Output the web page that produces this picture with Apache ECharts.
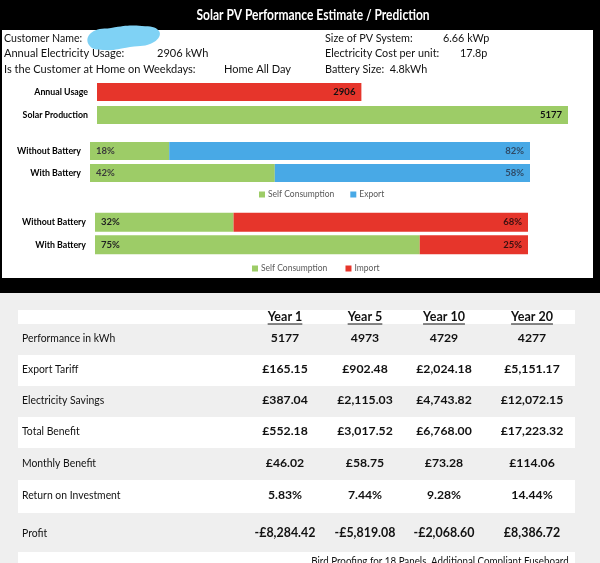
<!DOCTYPE html>
<html><head><meta charset="utf-8">
<script src="https://cdn.jsdelivr.net/npm/echarts@6/dist/echarts.min.js"></script>
<style>html,body{margin:0;padding:0;background:#000;}#c{width:600px;height:563px;}</style>
</head><body><div id="c"></div>
<script>
// ---- data ----
const titleText = 'Solar PV Performance Estimate / Prediction';
const infoLeft = [['Customer Name:', ''], ['Annual Electricity Usage:', '2906 kWh'], ['Is the Customer at Home on Weekdays:', 'Home All Day']];
const infoRight = [['Size of PV System:', '6.66 kWp'], ['Electricity Cost per unit:', '17.8p'], ['Battery Size:  4.8kWh', '']];
const usageCats = ['Annual Usage', 'Solar Production'];
const usageVals = [2906, 5177];
const batteryCats = ['Without Battery', 'With Battery'];
const exportSelf = [18, 42];
const exportShare = [82, 58];
const importSelf = [32, 75];
const importShare = [68, 25];
const tableYears = ['Year 1', 'Year 5', 'Year 10', 'Year 20'];
const tableLabels = ['Performance in kWh', 'Export Tariff', 'Electricity Savings', 'Total Benefit', 'Monthly Benefit', 'Return on Investment', 'Profit'];
const tableValues = [
  ['5177', '4973', '4729', '4277'],
  ['£165.15', '£902.48', '£2,024.18', '£5,151.17'],
  ['£387.04', '£2,115.03', '£4,743.82', '£12,072.15'],
  ['£552.18', '£3,017.52', '£6,768.00', '£17,223.32'],
  ['£46.02', '£58.75', '£73.28', '£114.06'],
  ['5.83%', '7.44%', '9.28%', '14.44%'],
  ['-£8,284.42', '-£5,819.08', '-£2,068.60', '£8,386.72']
];
const footNote = 'Bird Proofing for 18 Panels, Additional Compliant Fuseboard';

// ---- styles ----
const FONT = 'Lato, "Open Sans", sans-serif';
const GREEN = '#9dcc67', RED = '#e6352b', BLUE = '#48a9e6';
const chart = echarts.init(document.getElementById('c'));
const mctx = document.createElement('canvas').getContext('2d');
function tw(font, t){ mctx.font = font; return mctx.measureText(t).width; }
function txt(t, x, y, font, opts){
  opts = opts || {};
  return {type:'text', x:x, y:y, scaleX:opts.sx||1, z:opts.z||10,
    style:{text:t, x:0, y:0, fill:opts.fill||'#111', font:font, textAlign:opts.align||'left', textVerticalAlign:opts.va||'middle'}};
}

const g = [];
// backgrounds
g.push({type:'rect', shape:{x:0,y:0,width:600,height:563}, style:{fill:'#000'}, z:-10});
g.push({type:'rect', shape:{x:2,y:30,width:591,height:248}, style:{fill:'#fff'}, z:-9});
g.push({type:'rect', shape:{x:0,y:293,width:600,height:270}, style:{fill:'#efefef'}, z:-9});
// title
g.push(txt(titleText, 313, 15, 'bold 15px '+FONT, {fill:'#fff', align:'center', sx:0.8}));
// blue blob
g.push({type:'polygon', shape:{points:[[91,33],[111,28],[142,26],[159,31],[154,42],[130,47],[103,50],[89,45]], smooth:0.5}, style:{fill:'#7fd2f5'}, z:20});
// info
const infoY = [38, 53, 69];
const infoLeftValX = [null, 157, 224];
const infoFont = '11.5px '+FONT;
infoLeft.forEach((r,i)=>{
  g.push(txt(r[0], 4, infoY[i], infoFont, {sx:(i===0?0.92:0.96)}));
  if (r[1]) g.push(txt(r[1], infoLeftValX[i], infoY[i], infoFont, {sx:0.96}));
});
const infoRightValX = [443, 460, null];
infoRight.forEach((r,i)=>{
  g.push(txt(r[0], 325, infoY[i], infoFont, {sx:0.94}));
  if (r[1]) g.push(txt(r[1], infoRightValX[i], infoY[i], infoFont, {sx:0.94}));
});
// table rows
const colX = [285, 365, 444, 532];
const rowBands = [[324,355],[355,386],[386,417],[417,448],[448,480],[480,513],[513,552]];
g.push({type:'rect', shape:{x:18,y:310,width:557,height:14}, style:{fill:'#fff'}, z:-8});
rowBands.forEach((b,i)=>{ if (i%2===1) g.push({type:'rect', shape:{x:18,y:b[0],width:557,height:b[1]-b[0]}, style:{fill:'#fff'}, z:-8}); });
g.push({type:'rect', shape:{x:18,y:552,width:557,height:20}, style:{fill:'#fff'}, z:-8});
const hFont = 'bold 12.5px '+FONT;
tableYears.forEach((t,j)=>{
  g.push(txt(t, colX[j], 317, hFont, {align:'center'}));
  const w = tw(hFont, t);
  g.push({type:'line', shape:{x1:colX[j]-w/2, y1:324, x2:colX[j]+w/2, y2:324}, style:{stroke:'#111', lineWidth:1}});
});
tableLabels.forEach((l,i)=>{
  const yc = i===6 ? 533 : (rowBands[i][0]+rowBands[i][1])/2 - 1;
  g.push(txt(l, 22, yc, '12px '+FONT, {sx:0.865}));
  tableValues[i].forEach((v,j)=>{
    g.push(txt(v, colX[j], yc, (i===6?'bold 13.5px ':'bold 12px ')+FONT, {align:'center', sx:(i===6?0.92:1.02)}));
  });
});
g.push(txt(footNote, 440, 555, '11.5px '+FONT, {align:'center', va:'top', sx:0.85}));

const lbl = (pos, color) => ({show:true, position:pos, fontFamily:FONT, fontWeight:'bold', fontSize:9.5, color:color||'#333', distance:6});
const yAx = (gi, cats, margin) => ({gridIndex:gi, type:'category', data:cats, inverse:true, axisLine:{show:false}, axisTick:{show:false},
  axisLabel:{fontFamily:FONT, fontWeight:'bold', fontSize:8.8, color:'#000', margin:margin}});
const xAx = (gi, max) => ({gridIndex:gi, type:'value', min:0, max:max, show:false});

chart.setOption({
  backgroundColor:'#000',
  animation:false,
  textStyle:{fontFamily:FONT},
  graphic:g,
  grid:[
    {left:97, width:471, top:80.5, height:46},
    {left:90, width:440, top:140, height:44},
    {left:95, width:433, top:211, height:45}
  ],
  xAxis:[xAx(0,5177), xAx(1,100), xAx(2,100)],
  yAxis:[yAx(0,usageCats,9), yAx(1,batteryCats,9), yAx(2,batteryCats,9)],
  legend:[
    {data:['Self Consumption','Export'], left:254, top:185, itemWidth:6, itemHeight:6, itemGap:16, icon:'rect',
      textStyle:{fontFamily:FONT, fontSize:8.5, color:'#595959', padding:[0,0,0,-2]}},
    {data:['Self Consumption ','Import'], left:247, top:259, itemWidth:6, itemHeight:6, itemGap:16, icon:'rect',
      textStyle:{fontFamily:FONT, fontSize:8.5, color:'#595959', padding:[0,0,0,-2]}}
  ],
  series:[
    {type:'bar', name:'Usage', xAxisIndex:0, yAxisIndex:0, data:usageVals, barWidth:18,
      itemStyle:{color:p=>p.dataIndex===0?RED:GREEN}, label:lbl('insideRight','#111')},
    {type:'bar', name:'Self Consumption', xAxisIndex:1, yAxisIndex:1, stack:'a', data:exportSelf, barWidth:18,
      itemStyle:{color:GREEN}, label:Object.assign(lbl('insideLeft','#3a3a3a'),{formatter:'{c}%'})},
    {type:'bar', name:'Export', xAxisIndex:1, yAxisIndex:1, stack:'a', data:exportShare, barWidth:18,
      itemStyle:{color:BLUE}, label:Object.assign(lbl('insideRight','#2f4a66'),{formatter:'{c}%'})},
    {type:'bar', name:'Self Consumption ', xAxisIndex:2, yAxisIndex:2, stack:'b', data:importSelf, barWidth:19,
      itemStyle:{color:GREEN}, label:Object.assign(lbl('insideLeft','#222'),{formatter:'{c}%'})},
    {type:'bar', name:'Import', xAxisIndex:2, yAxisIndex:2, stack:'b', data:importShare, barWidth:19,
      itemStyle:{color:RED}, label:Object.assign(lbl('insideRight','#3a1010'),{formatter:'{c}%'})}
  ]
});
</script></body></html>
